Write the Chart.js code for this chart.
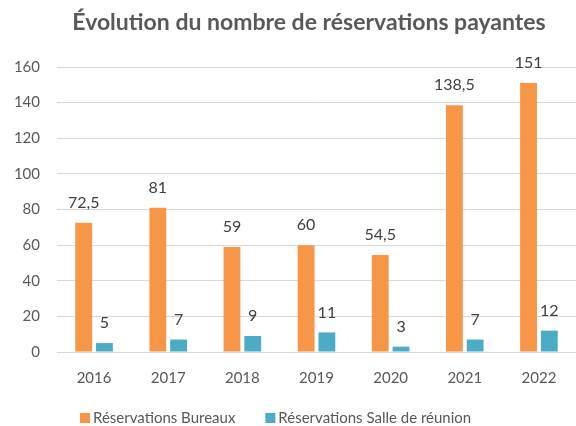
<!DOCTYPE html>
<html>
<head>
<meta charset="utf-8">
<script src="https://cdn.jsdelivr.net/npm/chart.js@4"></script>
<style>
  html, body { margin: 0; padding: 0; background: #fff; overflow: hidden; }
</style>
</head>
<body>
<canvas id="myChart" width="576" height="426"></canvas>
<script>
const years = ['2016', '2017', '2018', '2019', '2020', '2021', '2022'];
const bureaux = [72.5, 81, 59, 60, 54.5, 138.5, 151];
const salle = [5, 7, 9, 11, 3, 7, 12];
const yTicks = [0, 20, 40, 60, 80, 100, 120, 140, 160];
const titleText = 'Évolution du nombre de réservations payantes';

const FONT = "Lato, 'Open Sans', sans-serif";

// value labels above bars, title, legend row at bottom
const extras = {
  id: 'extras',
  afterDatasetsDraw(chart) {
    const ctx = chart.ctx;
    ctx.save();
    ctx.font = '16px ' + FONT;
    ctx.fillStyle = '#404040';
    ctx.textAlign = 'center';
    ctx.textBaseline = 'bottom';
    chart.data.datasets.forEach((ds, i) => {
      const meta = chart.getDatasetMeta(i);
      meta.data.forEach((bar, j) => {
        const txt = String(ds.data[j]).replace('.', ',');
        ctx.fillText(txt, bar.x, bar.y - 12);
      });
    });

    ctx.font = 'bold 23px ' + FONT;
    ctx.fillStyle = '#595959';
    ctx.textBaseline = 'middle';
    ctx.fillText(titleText, 309, 23);

    // legend
    ctx.font = '15px ' + FONT;
    ctx.textAlign = 'left';
    let x = 80;
    const y = 418;
    chart.data.datasets.forEach(ds => {
      ctx.fillStyle = ds.backgroundColor;
      ctx.fillRect(x, y - 5, 10, 10);
      ctx.fillStyle = '#595959';
      ctx.fillText(ds.label, x + 13, y);
      x += 13 + ctx.measureText(ds.label).width + 30;
    });
    ctx.restore();
  }
};

new Chart(document.getElementById('myChart'), {
  type: 'bar',
  data: {
    labels: years,
    datasets: [
      { label: 'Réservations Bureaux', data: bureaux, backgroundColor: '#F79646' },
      { label: 'Réservations Salle de réunion', data: salle, backgroundColor: '#4BACC6' }
    ]
  },
  options: {
    responsive: false,
    animation: false,
    categoryPercentage: 0.56,
    barPercentage: 0.81,
    layout: { padding: { left: 0, right: -9, top: 67, bottom: 0 } },
    plugins: {
      title: { display: false },
      legend: { display: false },
      tooltip: { enabled: false }
    },
    scales: {
      x: {
        grid: { display: false },
        border: { color: '#d9d9d9' },
        afterFit(axis) { axis.height = 74; },
        ticks: { color: '#595959', font: { family: FONT, size: 15 }, padding: 9 }
      },
      y: {
        min: 0,
        max: 160,
        afterBuildTicks(axis) { axis.ticks = yTicks.map(v => ({ value: v })); },
        afterFit(axis) { axis.width = 57; },
        grid: { color: '#d9d9d9', drawTicks: false },
        border: { display: false },
        ticks: { color: '#595959', font: { family: FONT, size: 15 }, padding: 17 }
      }
    }
  },
  plugins: [extras]
});
</script>
</body>
</html>
